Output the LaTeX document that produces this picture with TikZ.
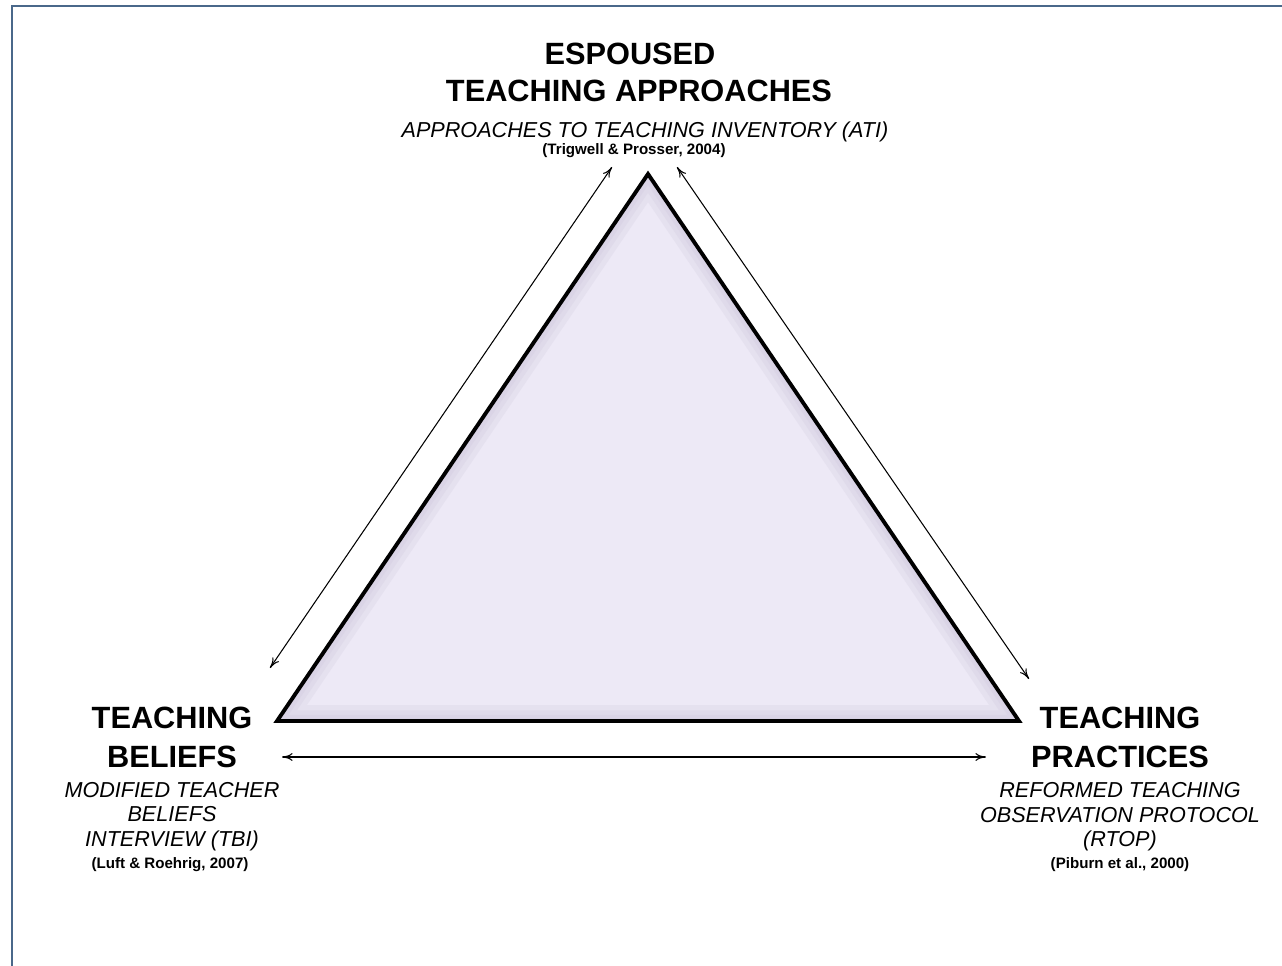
\documentclass[tikz,border=0pt]{standalone}
\usepackage{fontspec}
\setmainfont{Liberation Sans}
\usetikzlibrary{arrows.meta}
\definecolor{frameblue}{RGB}{74,104,138}
\definecolor{trifill}{RGB}{237,233,246}
\definecolor{triedge}{RGB}{196,190,212}
\tikzset{
  head/.style={font=\fontsize{17.5}{20}\selectfont\bfseries, inner sep=0pt, anchor=base},
  instr/.style={font=\fontsize{12.3}{14}\selectfont\itshape, inner sep=0pt, anchor=base},
  cite/.style={font=\fontsize{8.6}{10}\selectfont\bfseries, inner sep=0pt, anchor=base},
  link/.style={{To[length=6pt,width=4.5pt]}-{To[length=6pt,width=4.5pt]}, line width=0.6pt}
}
\begin{document}
\begin{tikzpicture}[x=0.02cm, y=-0.02cm]
    \useasboundingbox (0,0) rectangle (1282,966);
    \fill[white] (0,0) rectangle (1282,966);

    \draw[frameblue, line width=1.2pt] (12,966) -- (12,6) -- (1282,6);

    \coordinate (apex) at (648,174);
    \coordinate (bl) at (277,721);
    \coordinate (br) at (1019,721);
    \fill[trifill] (apex) -- (bl) -- (br) -- cycle;
    \begin{scope}
      \clip (apex) -- (bl) -- (br) -- cycle;
      \foreach \w in {18,12,7,3}
        \draw[triedge, opacity=0.18, line width=\w pt, line join=miter] (apex) -- (bl) -- (br) -- cycle;
    \end{scope}
    \draw[line width=2.2pt, line join=miter] (apex) -- (bl) -- (br) -- cycle;

    \node[head] (esp1) at (630,65) {ESPOUSED};
    \node[head] (esp2) at (639,102) {TEACHING APPROACHES};
    \node[instr] (ati) at (645,138) {APPROACHES TO TEACHING INVENTORY (ATI)};
    \node[cite] (ati c) at (634,155) {(Trigwell \& Prosser, 2004)};

    \node[head] (bel1) at (172,728) {TEACHING};
    \node[head] (bel2) at (172,767) {BELIEFS};
    \node[instr] (tbi1) at (172,797) {MODIFIED TEACHER};
    \node[instr] (tbi2) at (172,821) {BELIEFS};
    \node[instr] (tbi3) at (172,846) {INTERVIEW (TBI)};
    \node[cite] (tbi c) at (170,868) {(Luft \& Roehrig, 2007)};

    \node[head] (pra1) at (1120,728) {TEACHING};
    \node[head] (pra2) at (1120,767) {PRACTICES};
    \node[instr] (rtop1) at (1120,797) {REFORMED TEACHING};
    \node[instr] (rtop2) at (1120,822) {OBSERVATION PROTOCOL};
    \node[instr] (rtop3) at (1120,846) {(RTOP)};
    \node[cite] (rtop c) at (1120,868) {(Piburn et al., 2000)};

    \coordinate (l top) at (612,167);
    \coordinate (l bot) at (270,668);
    \coordinate (r top) at (677,167);
    \coordinate (r bot) at (1029,679);
    \coordinate (b left) at (282,757);
    \coordinate (b right) at (986,757);
    \draw[link] (l bot) -- (l top);
    \draw[link] (r top) -- (r bot);
    \draw[link] (b left) -- (b right);
\end{tikzpicture}
\end{document}
